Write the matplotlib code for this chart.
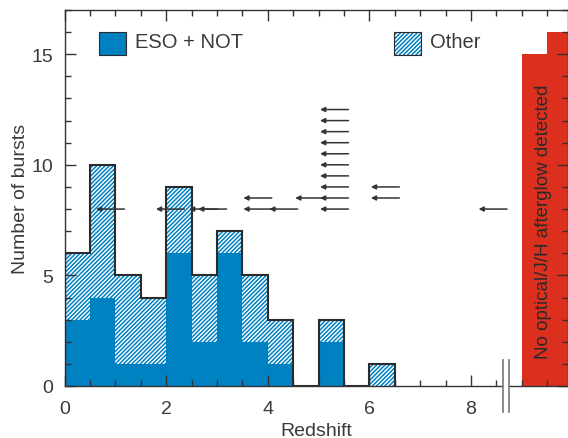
import matplotlib
matplotlib.use("Agg")
import matplotlib.pyplot as plt
from matplotlib.patches import Rectangle
from matplotlib.ticker import MultipleLocator

plt.rcParams['font.family'] = ['Liberation Sans', 'DejaVu Sans']
plt.rcParams['hatch.linewidth'] = 1.1

# redshift histogram (bin left edges, width 0.5)
z_left = [0.0, 0.5, 1.0, 1.5, 2.0, 2.5, 3.0, 3.5, 4.0, 4.5, 5.0, 5.5, 6.0]
eso_not = [3, 4, 1, 1, 6, 2, 6, 2, 1, 0, 2, 0, 0]
total = [6, 10, 5, 4, 9, 5, 7, 5, 3, 0, 3, 0, 1]

# bursts without optical/J/H afterglow
dark_left = [9.0, 9.5]
dark_counts = [15, 16]

# redshift upper limits (value, stacking level)
limit_z = [1.18, 2.36, 3.01, 3.19, 4.08, 4.59, 5.59, 8.71,
           4.08, 5.10, 5.59, 6.59,
           5.59, 6.59,
           5.59, 5.59, 5.59, 5.59, 5.59, 5.59, 5.59]
limit_y = [8, 8, 8, 8, 8, 8, 8, 8,
           8.5, 8.5, 8.5, 8.5,
           9, 9,
           9.5, 10, 10.5, 11, 11.5, 12, 12.5]

blue = '#0081c2'
red = '#dc2f1e'
ink = '#3a3a3a'
width = 0.5

fig = plt.figure(figsize=(5.68, 4.39), dpi=100)
ax = fig.add_axes([64.5 / 568, 52 / 439, 503 / 568, 376 / 439])
ax.set_axisbelow(False)

other = [t - e for t, e in zip(total, eso_not)]
ax.bar(z_left, eso_not, width=width, align='edge', color=blue, linewidth=0)
ax.bar(z_left, other, bottom=eso_not, width=width, align='edge',
       facecolor='white', edgecolor=blue, hatch='////////', linewidth=0)
edges = z_left + [z_left[-1] + width]
ax.stairs(total, edges, baseline=0, color='#2b2b2b', linewidth=1.5, zorder=3)

ax.bar(dark_left, dark_counts, width=width, align='edge', color=red,
       linewidth=0)
ax.text(9.42, 7.45, 'No optical/J/H afterglow detected', rotation=90,
        ha='center', va='center', fontsize=13.5, color='#2a2a2a')

for z, y in zip(limit_z, limit_y):
    ax.annotate('', xy=(z - 0.56, y), xytext=(z, y),
                arrowprops=dict(arrowstyle='-|>', color='#333333', lw=1.1,
                                mutation_scale=7, shrinkA=0, shrinkB=0))

# axis break marks
tr = ax.get_xaxis_transform()
ax.add_patch(Rectangle((8.64, -0.01), 0.1, 0.02, transform=tr,
                       facecolor='white', edgecolor='none', clip_on=False,
                       zorder=5))
for xb in [8.64, 8.74]:
    ax.plot([xb, xb], [-0.068, 0.068], transform=tr, color='#777777',
            lw=1.2, clip_on=False, zorder=6)

# legend
ax.add_patch(Rectangle((0.0692, 0.881), 0.0525, 0.0596, transform=ax.transAxes,
                       facecolor=blue, edgecolor='#2b2b2b', linewidth=0.8))
ax.text(0.140, 0.9168, 'ESO + NOT', transform=ax.transAxes, va='center',
        fontsize=14.5, color=ink)
ax.add_patch(Rectangle((0.6557, 0.881), 0.0525, 0.0596, transform=ax.transAxes,
                       facecolor='white', edgecolor=blue, hatch='////////',
                       linewidth=0))
ax.add_patch(Rectangle((0.6557, 0.881), 0.0525, 0.0596, transform=ax.transAxes,
                       facecolor='none', edgecolor='#2b2b2b', linewidth=0.8))
ax.text(0.7266, 0.9168, 'Other', transform=ax.transAxes, va='center',
        fontsize=14.5, color=ink)

ax.set_xlim(0, 9.9)
ax.set_ylim(0, 17)
ax.xaxis.set_major_locator(MultipleLocator(2))
ax.xaxis.set_minor_locator(MultipleLocator(0.5))
ax.yaxis.set_major_locator(MultipleLocator(5))
ax.yaxis.set_minor_locator(MultipleLocator(1))
ax.set_xticks([0, 2, 4, 6, 8])
ax.tick_params(which='both', direction='in', top=True, right=True,
               color='#333333', labelsize=14, labelcolor=ink)
ax.tick_params(which='major', length=8, width=1)
ax.tick_params(which='minor', length=4, width=1)
ax.tick_params(axis='x', pad=10)
ax.tick_params(axis='y', pad=8)
for s in ax.spines.values():
    s.set_color('#333333')
    s.set_linewidth(1)

ax.set_xlabel('Redshift', fontsize=14, color=ink, labelpad=4)
ax.set_ylabel('Number of bursts', fontsize=14, color=ink, labelpad=2)

fig.savefig('out.png', dpi=100)
